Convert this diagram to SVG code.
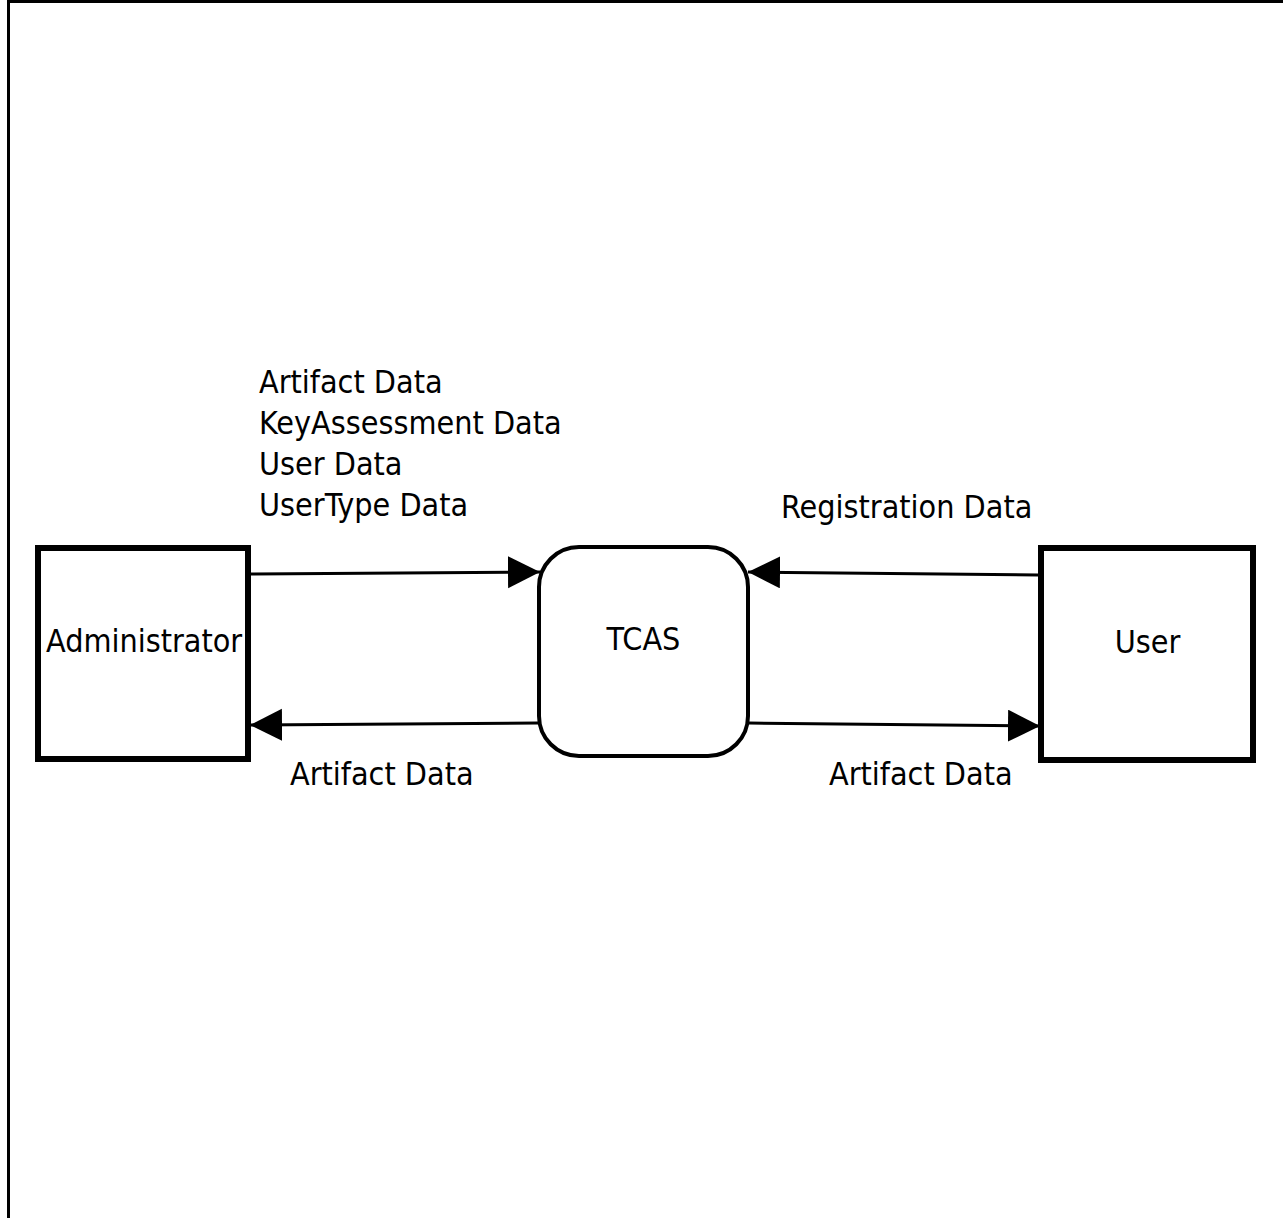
<svg xmlns="http://www.w3.org/2000/svg" width="1283" height="1218" viewBox="0 0 1283 1218">
<style>
text{font-family:"DejaVu Sans Condensed","DejaVu Sans",sans-serif;font-stretch:condensed;font-size:32px;fill:#000}
.box{fill:#fff;stroke:#000;stroke-width:6}
.proc{fill:#fff;stroke:#000;stroke-width:4}
.edge{fill:none;stroke:#000;stroke-width:3}
</style>
<defs>
<marker id="arr" markerUnits="userSpaceOnUse" markerWidth="34" markerHeight="34" refX="32" refY="16" orient="auto">
<path d="M0,0 L32,16 L0,32 Z" fill="#000"/>
</marker>
</defs>
<rect width="1283" height="1218" fill="#fff"/>
<g id="frame">
<line x1="7" y1="1.5" x2="1283" y2="1.5" stroke="#000" stroke-width="3"/>
<line x1="8.5" y1="0" x2="8.5" y2="1218" stroke="#000" stroke-width="3"/>
</g>
<g id="administrator">
<rect class="box" x="38" y="548" width="210" height="211"/>
<text x="46" y="652">Administrator</text>
</g>
<g id="tcas">
<rect class="proc" x="539" y="547" width="209" height="209" rx="40" ry="40"/>
<text x="643.5" y="650" text-anchor="middle">TCAS</text>
</g>
<g id="user">
<rect class="box" x="1041" y="548" width="212" height="212"/>
<text x="1147.5" y="653" text-anchor="middle">User</text>
</g>
<g id="connectors">
<g id="e1">
<line class="edge" x1="251" y1="574" x2="540" y2="572" marker-end="url(#arr)"/>
<text x="259" y="393">Artifact Data</text>
<text x="259" y="434">KeyAssessment Data</text>
<text x="259" y="475">User Data</text>
<text x="259" y="516">UserType Data</text>
</g>
<g id="e2">
<line class="edge" x1="538" y1="723" x2="250" y2="725" marker-end="url(#arr)"/>
<text x="290" y="785">Artifact Data</text>
</g>
<g id="e3">
<line class="edge" x1="1038" y1="575" x2="748" y2="572" marker-end="url(#arr)"/>
<text x="781" y="518">Registration Data</text>
</g>
<g id="e4">
<line class="edge" x1="749" y1="723" x2="1040" y2="726" marker-end="url(#arr)"/>
<text x="829" y="785">Artifact Data</text>
</g>
</g>
</svg>
